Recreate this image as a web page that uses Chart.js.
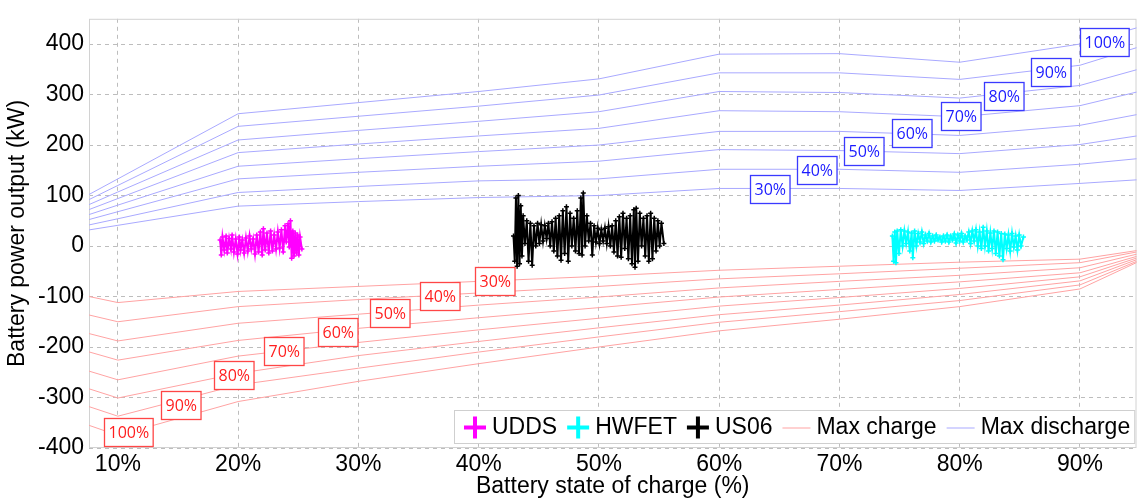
<!DOCTYPE html>
<html lang="en">
<head>
  <meta charset="UTF-8">
  <title>Battery power limits vs state of charge</title>
  <script src="https://cdn.jsdelivr.net/npm/chart.js"></script>
  <style>
    html, body { margin: 0; padding: 0; background: #fff; }
    canvas { display: block; }
  </style>
</head>
<body>
  <canvas id="socChart" width="1142" height="504"></canvas>

  <script>
    // state of charge (%) where the limit curves are given
    const socPoints = [0, 10, 20, 30, 40, 50, 60, 70, 80, 90, 100];
    const curveNames = ['30%', '40%', '50%', '60%', '70%', '80%', '90%', '100%'];

    // max discharge power (kW), one row per curve in curveNames
    const maxDischarge = [
      [3, 41, 79, 88, 96, 100, 114, 114, 110, 124, 139],
      [3, 54, 106, 118, 129, 133, 152, 152, 146, 162, 185],
      [3, 68, 133, 146, 158, 168, 191, 189, 183, 201, 237],
      [3, 81, 158, 173, 187, 200, 227, 227, 219, 239, 284],
      [3, 94, 185, 202, 218, 233, 268, 266, 256, 278, 335],
      [3, 107, 210, 229, 247, 266, 306, 304, 293, 318, 384],
      [3, 120, 237, 257, 277, 299, 343, 343, 330, 358, 432],
      [4, 133, 262, 284, 306, 331, 380, 381, 364, 400, 468]
    ];

    // max charge power (kW), same order
    const maxCharge = [
      [-62, -112, -90, -80, -70, -60, -48, -40, -32, -26, 10],
      [-94, -150, -120, -106, -93, -80, -65, -55, -44, -33, 12],
      [-127, -188, -153, -135, -117, -101, -83, -70, -58, -43, 14],
      [-158, -226, -187, -163, -142, -122, -101, -86, -71, -53, 16],
      [-193, -265, -218, -191, -166, -143, -119, -102, -84, -61, 18],
      [-225, -301, -252, -217, -189, -162, -136, -117, -96, -69, 20],
      [-258, -337, -275, -242, -210, -180, -151, -130, -108, -77, 22],
      [-292, -375, -308, -268, -233, -200, -168, -145, -120, -85, 26]
    ];

    // where the curve name boxes sit (SOC %, kW)
    const blueTagSoc = [64.2, 68.1, 72.0, 76.0, 80.1, 83.7, 87.6, 92.0];
    const blueTagKw = [113, 151, 189, 223, 258, 297, 344, 404];
    const redTagSoc = [41.3, 36.8, 32.6, 28.3, 23.8, 19.6, 15.2, 10.9];
    const redTagKw = [-69, -99, -132, -170, -208, -256, -314, -368];

    // drive cycle traces: [SOC %, kW]
    const uddsTrace = [
      [18.5, 12], [18.6, -18], [18.7, 18], [18.85, -8], [19.0, 20], [19.1, -14], [19.25, 15],
      [19.4, -6], [19.5, 22], [19.65, -12], [19.8, 14], [19.95, -16], [20.1, 18], [20.2, -8],
      [20.35, 12], [20.5, -14], [20.65, 16], [20.8, -10], [20.95, 20], [21.1, -6], [21.25, 14],
      [21.4, -16], [21.55, 22], [21.7, -12], [21.85, 28], [22.0, -18], [22.1, 34], [22.25, -8],
      [22.4, 26], [22.55, -14], [22.7, 30], [22.85, -10], [23.0, 22], [23.15, -6], [23.3, 28],
      [23.45, -4], [23.6, 32], [23.75, -12], [23.9, 40], [24.0, 8], [24.15, 44], [24.25, -2],
      [24.35, 50], [24.45, -24], [24.55, 30], [24.65, -20], [24.75, 26], [24.85, -14],
      [24.95, 22], [25.05, -18], [25.15, 18], [25.3, -6]
    ];
    const us06Trace = [
      [42.9, 20], [43.0, -30], [43.1, 95], [43.2, -40], [43.3, 100], [43.4, -35], [43.5, 80],
      [43.6, -20], [43.7, 60], [43.85, 5], [44.0, 50], [44.15, -30], [44.3, 45], [44.45, -38],
      [44.6, 40], [44.75, 0], [44.9, 45], [45.05, 5], [45.2, 42], [45.35, 10], [45.5, 40],
      [45.65, 15], [45.8, 45], [45.95, 0], [46.1, 48], [46.25, -10], [46.4, 55], [46.55, -20],
      [46.7, 60], [46.85, -28], [47.0, 70], [47.15, -15], [47.3, 78], [47.45, -30], [47.6, 65],
      [47.75, 0], [47.9, 55], [48.05, -10], [48.2, 70], [48.35, -15], [48.5, 95], [48.6, -18],
      [48.7, 105], [48.85, 0], [49.0, 60], [49.15, 10], [49.3, 45], [49.45, -18], [49.6, 40],
      [49.75, 8], [49.9, 35], [50.05, 5], [50.2, 32], [50.35, 10], [50.5, 35], [50.65, 5],
      [50.8, 38], [50.95, 0], [51.1, 40], [51.25, -12], [51.4, 50], [51.55, -20], [51.7, 58],
      [51.85, -22], [52.0, 65], [52.15, -5], [52.3, 55], [52.45, -25], [52.6, 60], [52.75, -35],
      [52.9, 72], [53.0, -42], [53.1, 75], [53.25, -30], [53.4, 65], [53.55, 0], [53.7, 55],
      [53.85, -20], [54.0, 60], [54.15, -30], [54.3, 65], [54.45, -25], [54.6, 55], [54.75, -10],
      [54.9, 50], [55.05, 0], [55.2, 45], [55.4, 5]
    ];
    const hwfetTrace = [
      [74.4, 20], [74.5, -30], [74.6, 28], [74.7, -33], [74.8, 30], [74.95, -15], [75.1, 32],
      [75.25, 0], [75.4, 30], [75.55, 5], [75.7, 28], [75.85, -10], [76.0, 26], [76.1, -23],
      [76.25, 30], [76.4, 0], [76.55, 25], [76.7, 8], [76.85, 28], [77.0, 5], [77.15, 22],
      [77.3, 10], [77.45, 25], [77.6, 8], [77.75, 20], [77.9, 10], [78.05, 22], [78.2, 12],
      [78.35, 18], [78.5, 8], [78.65, 20], [78.8, 10], [78.95, 22], [79.1, 8], [79.25, 20],
      [79.4, 12], [79.55, 24], [79.7, 6], [79.85, 22], [80.0, 10], [80.15, 25], [80.3, 8],
      [80.45, 20], [80.6, 12], [80.75, 28], [80.9, 5], [81.05, 30], [81.2, 10], [81.35, 32],
      [81.5, 0], [81.65, 28], [81.8, -5], [81.95, 37], [82.1, 0], [82.25, 30], [82.4, -10],
      [82.55, 26], [82.7, -5], [82.85, 30], [83.0, -15], [83.15, 28], [83.3, -20], [83.45, 25],
      [83.6, -27], [83.75, 24], [83.9, -5], [84.05, 22], [84.2, -10], [84.35, 25], [84.5, -2],
      [84.65, 20], [84.8, -8], [84.95, 22], [85.1, 0], [85.3, 18]
    ];

    const xTickValues = [10, 20, 30, 40, 50, 60, 70, 80, 90];
    const yTickValues = [-400, -300, -200, -100, 0, 100, 200, 300, 400];

    const FONT = '"Liberation Sans", Arial, sans-serif';
    const chargeColor = '#ffa3a3';
    const dischargeColor = '#a9a9ff';

    function toXY(pairs) {
      return pairs.map(p => ({ x: p[0], y: p[1] }));
    }

    function curveData(values) {
      return socPoints.map((s, i) => ({ x: s, y: values[i] }));
    }

    function traceSet(label, pairs, color) {
      return { label: label, data: toXY(pairs), showLine: true, borderColor: color,
        backgroundColor: color, borderWidth: 2, pointStyle: 'cross', pointRadius: 2.5,
        pointBorderWidth: 1.5 };
    }

    const datasets = [];

    // drive cycles first so they are drawn on top
    datasets.push(traceSet('UDDS', uddsTrace, '#ff00ff'));
    datasets.push(traceSet('HWFET', hwfetTrace, '#00ffff'));
    datasets.push(traceSet('US06', us06Trace, '#000000'));

    maxCharge.forEach((row, i) => {
      datasets.push({ label: 'Max charge ' + curveNames[i], data: curveData(row), showLine: true,
        borderColor: chargeColor, borderWidth: 1, pointRadius: 0 });
    });
    maxDischarge.forEach((row, i) => {
      datasets.push({ label: 'Max discharge ' + curveNames[i], data: curveData(row), showLine: true,
        borderColor: dischargeColor, borderWidth: 1, pointRadius: 0 });
    });

    // frame around the plot area
    const framePlugin = {
      id: 'frame',
      beforeDatasetsDraw(chart) {
        const { ctx, chartArea: a } = chart;
        ctx.save();
        ctx.strokeStyle = '#d2d2d2';
        ctx.lineWidth = 1;
        ctx.strokeRect(a.left + 0.5, a.top + 0.5, a.right - a.left - 1, a.bottom - a.top - 1);
        ctx.restore();
      }
    };

    // boxed curve names
    const tagPlugin = {
      id: 'curveTags',
      afterDatasetsDraw(chart) {
        const { ctx, scales } = chart;
        ctx.save();
        ctx.font = '16px "Open Sans", sans-serif';
        ctx.textAlign = 'center';
        ctx.textBaseline = 'middle';
        function drawTags(socs, kws, edge, ink) {
          socs.forEach((s, i) => {
            const px = scales.x.getPixelForValue(s);
            const py = scales.y.getPixelForValue(kws[i]);
            const txt = curveNames[i];
            const w = ctx.measureText(txt).width + 8;
            const h = 28;
            const l = Math.round(px - w / 2) + 0.5;
            const t = Math.round(py - h / 2) + 0.5;
            ctx.fillStyle = '#ffffff';
            ctx.fillRect(l, t, w, h);
            ctx.strokeStyle = edge;
            ctx.lineWidth = 1.3;
            ctx.strokeRect(l, t, w, h);
            ctx.fillStyle = ink;
            ctx.fillText(txt, l + w / 2, t + h / 2 + 1);
          });
        }
        drawTags(blueTagSoc, blueTagKw, '#3a3aff', '#1a1aff');
        drawTags(redTagSoc, redTagKw, '#ff4646', '#ff1e1e');
        ctx.restore();
      }
    };

    const legendItems = [
      { text: 'UDDS', kind: 'plus', color: '#ff00ff' },
      { text: 'HWFET', kind: 'plus', color: '#00ffff' },
      { text: 'US06', kind: 'plus', color: '#000000' },
      { text: 'Max charge', kind: 'line', color: chargeColor },
      { text: 'Max discharge', kind: 'line', color: dischargeColor }
    ];

    const legendPlugin = {
      id: 'boxLegend',
      afterDraw(chart) {
        const { ctx, chartArea: a } = chart;
        ctx.save();
        ctx.font = '23px ' + FONT;
        let w = 10;
        legendItems.forEach(it => {
          w += (it.kind === 'plus' ? 22 : 28) + 6 + ctx.measureText(it.text).width + 10;
        });
        w -= 6;
        const h = 33;
        const left = Math.round(a.right - 2 - w);
        const top = Math.round(a.bottom - 5 - h);
        ctx.fillStyle = '#ffffff';
        ctx.fillRect(left, top, w, h);
        ctx.strokeStyle = '#cfcfcf';
        ctx.lineWidth = 1;
        ctx.strokeRect(left + 0.5, top + 0.5, w, h);

        let cx = left + 10;
        const cy = top + h / 2 + 1;
        ctx.textBaseline = 'middle';
        legendItems.forEach(it => {
          if (it.kind === 'plus') {
            ctx.strokeStyle = it.color;
            ctx.lineWidth = 4;
            ctx.beginPath();
            ctx.moveTo(cx, cy);
            ctx.lineTo(cx + 22, cy);
            ctx.moveTo(cx + 11, cy - 11);
            ctx.lineTo(cx + 11, cy + 11);
            ctx.stroke();
            cx += 28;
          } else {
            ctx.strokeStyle = it.color;
            ctx.lineWidth = 1;
            ctx.beginPath();
            ctx.moveTo(cx, cy + 0.5);
            ctx.lineTo(cx + 28, cy + 0.5);
            ctx.stroke();
            cx += 34;
          }
          ctx.fillStyle = '#000';
          ctx.fillText(it.text, cx, cy);
          cx += ctx.measureText(it.text).width + 10;
        });
        ctx.restore();
      }
    };

    const ctx = document.getElementById('socChart').getContext('2d');
    const socChart = new Chart(ctx, {
      type: 'scatter',
      data: { datasets: datasets },
      options: {
        responsive: false,
        animation: false,
        devicePixelRatio: 1,
        layout: { padding: { top: 7, right: 2, left: 0, bottom: 0 } },
        plugins: {
          legend: { display: false },
          tooltip: { enabled: false }
        },
        scales: {
          x: {
            type: 'linear',
            min: 7.6,
            max: 94.7,
            afterBuildTicks: scale => {
              scale.ticks = xTickValues.map(v => ({ value: v }));
            },
            afterFit: scale => { scale.height = 56; },
            ticks: {
              padding: 3,
              color: '#000',
              font: { family: FONT, size: 23 },
              callback: v => v + '%'
            },
            grid: { color: '#bdbdbd', lineWidth: 1, drawTicks: false },
            border: { display: false, dash: [4, 4] },
            title: {
              display: true,
              text: 'Battery state of charge (%)',
              color: '#000',
              font: { family: FONT, size: 23 },
              padding: { top: 0, bottom: 4 }
            }
          },
          y: {
            type: 'linear',
            min: -400,
            max: 450,
            afterBuildTicks: scale => {
              scale.ticks = yTickValues.map(v => ({ value: v }));
            },
            afterFit: scale => { scale.width = 89; },
            ticks: {
              padding: 5,
              color: '#000',
              font: { family: FONT, size: 23 }
            },
            grid: { color: '#bdbdbd', lineWidth: 1, drawTicks: false },
            border: { display: false, dash: [4, 4] },
            title: {
              display: true,
              text: 'Battery power output (kW)',
              color: '#000',
              font: { family: FONT, size: 23 },
              padding: { top: 4, bottom: 0 }
            }
          }
        }
      },
      plugins: [framePlugin, tagPlugin, legendPlugin]
    });
  </script>
</body>
</html>
